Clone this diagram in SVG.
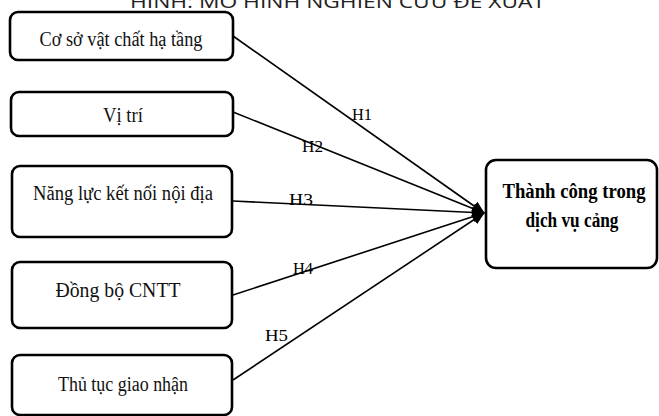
<svg xmlns="http://www.w3.org/2000/svg" width="659" height="416" viewBox="0 0 659 416">
<defs>
<style>
.box{fill:#fff;stroke:#000;stroke-width:2.6}
.t{font-family:"Liberation Serif","Times New Roman",serif;font-size:20px;fill:#111;text-anchor:middle}
.tb{font-family:"Liberation Serif","Times New Roman",serif;font-size:20px;font-weight:bold;fill:#000;text-anchor:middle}
.lbl{font-family:"Liberation Serif","Times New Roman",serif;font-size:17px;fill:#000}
.edge{stroke:#000;stroke-width:1.6;fill:none;marker-end:url(#ah)}
.title{font-family:"Open Sans","Liberation Sans",sans-serif;font-size:19px;fill:#222}
</style>
<marker id="ah" markerWidth="13" markerHeight="11" refX="12" refY="5.5" orient="auto" markerUnits="userSpaceOnUse">
<path d="M0,0 L13,5.5 L0,11 Z" fill="#000"/>
</marker>
</defs>
<rect width="659" height="416" fill="#fff"/>
<text class="title" x="130" y="8" textLength="415" lengthAdjust="spacingAndGlyphs">HÌNH: MÔ HÌNH NGHIÊN CỨU ĐỀ XUẤT</text>

<g id="connectors">
<line class="edge" x1="233" y1="36" x2="484" y2="213"/>
<line class="edge" x1="233" y1="112" x2="484" y2="213"/>
<line class="edge" x1="233" y1="201" x2="484" y2="213"/>
<line class="edge" x1="233" y1="295" x2="484" y2="213"/>
<line class="edge" x1="233" y1="380" x2="484" y2="213"/>
<text class="lbl" x="352" y="120" textLength="20" lengthAdjust="spacingAndGlyphs">H1</text>
<text class="lbl" x="302" y="152" textLength="21" lengthAdjust="spacingAndGlyphs">H2</text>
<text class="lbl" x="289" y="205" textLength="24" lengthAdjust="spacingAndGlyphs">H3</text>
<text class="lbl" x="293" y="274" textLength="20" lengthAdjust="spacingAndGlyphs">H4</text>
<text class="lbl" x="265" y="341" textLength="23" lengthAdjust="spacingAndGlyphs">H5</text>
</g>

<g id="n1">
<rect class="box" x="10" y="12" width="223" height="48" rx="8"/>
<text class="t" x="121" y="46" textLength="163" lengthAdjust="spacingAndGlyphs">Cơ sở vật chất hạ tầng</text>
</g>
<g id="n2">
<rect class="box" x="11" y="92" width="222" height="44" rx="8"/>
<text class="t" x="123" y="122" textLength="40" lengthAdjust="spacingAndGlyphs">Vị trí</text>
</g>
<g id="n3">
<rect class="box" x="12" y="166" width="220" height="71" rx="8"/>
<text class="t" x="123" y="200" textLength="180" lengthAdjust="spacingAndGlyphs">Năng lực kết nối nội địa</text>
</g>
<g id="n4">
<rect class="box" x="12" y="262" width="220" height="66" rx="8"/>
<text class="t" x="118" y="297" textLength="125" lengthAdjust="spacingAndGlyphs">Đồng bộ CNTT</text>
</g>
<g id="n5">
<rect class="box" x="12" y="355" width="220" height="60" rx="8"/>
<text class="t" x="123" y="391" textLength="130" lengthAdjust="spacingAndGlyphs">Thủ tục giao nhận</text>
</g>
<g id="target">
<rect class="box" x="486" y="160" width="171" height="108" rx="10"/>
<text class="tb" x="574" y="198" textLength="143" lengthAdjust="spacingAndGlyphs">Thành công trong</text>
<text class="tb" x="572" y="227" textLength="93" lengthAdjust="spacingAndGlyphs">dịch vụ cảng</text>
</g>
</svg>
